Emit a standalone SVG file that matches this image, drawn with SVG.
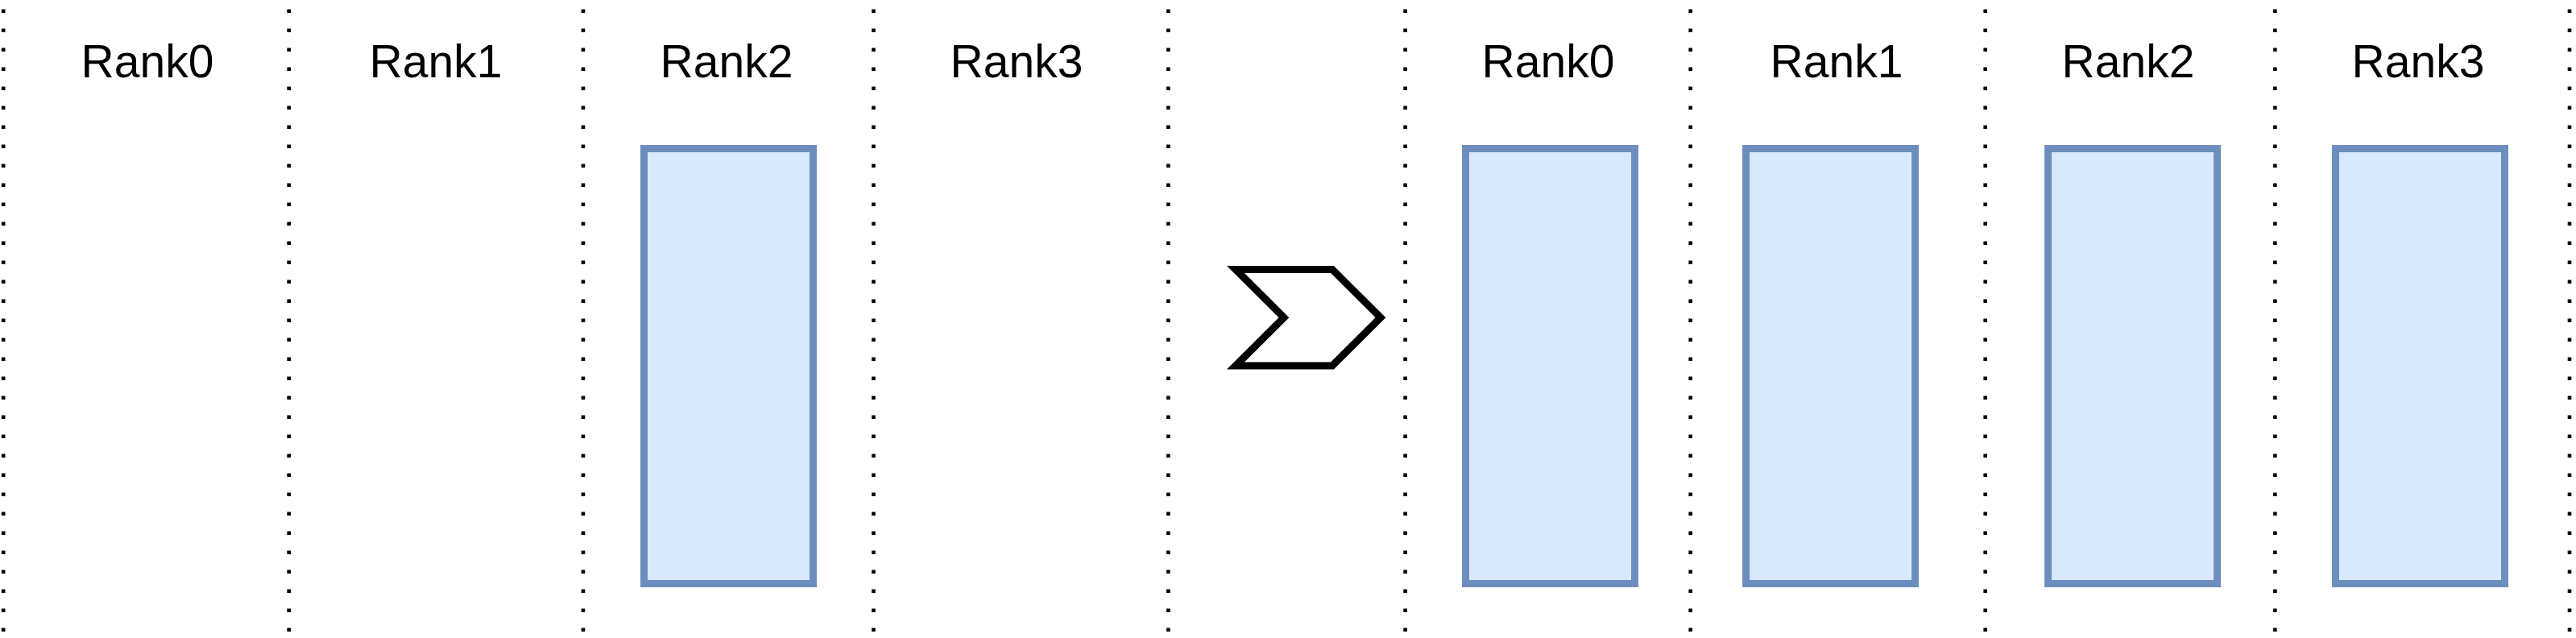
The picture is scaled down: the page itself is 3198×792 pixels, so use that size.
<svg xmlns="http://www.w3.org/2000/svg" width="3198" height="792" viewBox="0 0 3198 792">
<style>
.div{stroke:#000;stroke-width:4.6;stroke-dasharray:4.6 19.4;fill:none}
.box{fill:#dae8fc;stroke:#6c8ebf;stroke-width:9}
.lbl{font-family:"Liberation Sans",Arial,sans-serif;font-size:57px;fill:#000;text-anchor:middle}
.chev{fill:#fff;stroke:#000;stroke-width:9;stroke-miterlimit:10}
</style>
<rect width="3198" height="792" fill="#fff"/>
<g id="dividers">
<line class="div" x1="4.2" y1="11.4" x2="4.2" y2="790"/>
<line class="div" x1="358.7" y1="11.4" x2="358.7" y2="790"/>
<line class="div" x1="724" y1="11.4" x2="724" y2="790"/>
<line class="div" x1="1084.5" y1="11.4" x2="1084.5" y2="790"/>
<line class="div" x1="1450.4" y1="11.4" x2="1450.4" y2="790"/>
<line class="div" x1="1744.6" y1="11.4" x2="1744.6" y2="790"/>
<line class="div" x1="2098.7" y1="11.4" x2="2098.7" y2="790"/>
<line class="div" x1="2464.7" y1="11.4" x2="2464.7" y2="790"/>
<line class="div" x1="2824.4" y1="11.4" x2="2824.4" y2="790"/>
<line class="div" x1="3190" y1="11.4" x2="3190" y2="790"/>
</g>
<g id="labels-before">
<text class="lbl" x="183" y="95.5">Rank0</text>
<text class="lbl" x="541" y="95.5">Rank1</text>
<text class="lbl" x="902" y="95.5">Rank2</text>
<text class="lbl" x="1262" y="95.5">Rank3</text>
</g>
<g id="data-before-rank2"><rect class="box" x="799.5" y="184.5" width="210" height="540"/></g>
<g id="arrow-step"><polygon class="chev" points="1534,334.5 1654,334.5 1714,394.2 1654,454 1534,454 1594,394.2"/></g>
<g id="labels-after">
<text class="lbl" x="1922" y="95.5">Rank0</text>
<text class="lbl" x="2280" y="95.5">Rank1</text>
<text class="lbl" x="2642" y="95.5">Rank2</text>
<text class="lbl" x="3002" y="95.5">Rank3</text>
</g>
<g id="data-after-rank0"><rect class="box" x="1819.5" y="184.5" width="210" height="540"/></g>
<g id="data-after-rank1"><rect class="box" x="2167.6" y="184.5" width="210" height="540"/></g>
<g id="data-after-rank2"><rect class="box" x="2542.6" y="184.5" width="210" height="540"/></g>
<g id="data-after-rank3"><rect class="box" x="2899.5" y="184.5" width="210" height="540"/></g>
</svg>
